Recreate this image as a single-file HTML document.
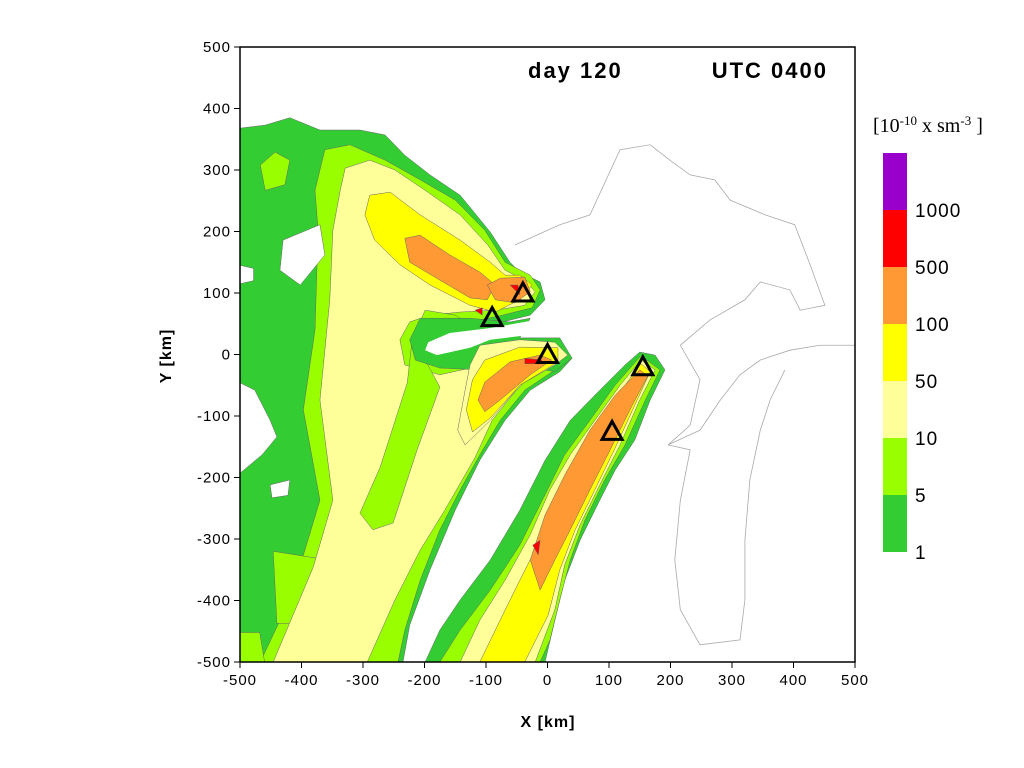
<!DOCTYPE html>
<html><head><meta charset="utf-8"><style>
body{margin:0;background:#fff;width:1024px;height:768px;overflow:hidden;font-family:"Liberation Sans",sans-serif}
svg{position:absolute;left:0;top:0}
</style></head><body>
<svg id="chart" width="1024" height="768"></svg>
<script>
// Contour polygons in km coordinates
const greenOuter=[[-500,368],[-459,373],[-419,385],[-370,365],[-305,365],[-264,357],[-232,324],[-191,292],[-142,259],[-93,199],[-61,150],[-45,134],[-12,118],[-4,89],[-28,64],[-93,48],[-159,40],[-199,24],[-207,7],[-183,-6],[-126,7],[-93,20],[-28,27],[20,24],[40,-6],[20,-28],[-28,-58],[-69,-107],[-110,-172],[-150,-253],[-191,-350],[-224,-440],[-235,-500],[-500,-500]];
const limeMain=[[-362,333],[-321,341],[-264,316],[-207,284],[-150,251],[-102,202],[-69,150],[-28,129],[-12,105],[-25,76],[-77,63],[-126,53],[-175,48],[-199,32],[-211,15],[-199,-1],[-175,-9],[-110,7],[-45,15],[20,15],[33,-6],[12,-25],[-37,-58],[-77,-107],[-110,-163],[-142,-220],[-175,-285],[-207,-367],[-232,-448],[-243,-500],[-467,-500],[-419,-399],[-370,-237],[-397,-90],[-378,40],[-373,202],[-378,267]];
const limeLowLeft=[[-446,-320],[-370,-332],[-370,-440],[-440,-437]];
const limeCorner=[[-500,-452],[-468,-452],[-460,-500],[-500,-500]];
const limeTopLeft=[[-467,308],[-443,329],[-419,316],[-427,276],[-459,267]];
const lyMain=[[-329,303],[-289,316],[-248,300],[-199,267],[-142,227],[-97,178],[-69,137],[-37,121],[-20,102],[-37,80],[-85,72],[-142,69],[-191,64],[-224,53],[-240,24],[-232,-17],[-175,-33],[-126,-22],[-85,-12],[-45,-12],[-12,-17],[-53,-61],[-90,-107],[-118,-168],[-167,-253],[-207,-318],[-248,-399],[-293,-500],[-446,-500],[-381,-346],[-349,-237],[-370,-74],[-354,89],[-349,202],[-337,267]];
const limeIsland=[[-199,72],[-150,64],[-126,48],[-167,40],[-191,24],[-199,-9],[-175,-53],[-212,-155],[-251,-274],[-284,-285],[-305,-258],[-272,-183],[-228,-46],[-220,24]];
const greenNotch=[[-207,59],[-126,59],[-61,53],[-28,59],[-45,27],[20,27],[40,-6],[12,-28],[-45,-17],[-110,-25],[-175,-22],[-215,-9],[-224,24]];
const notchWhite=[[-4,59],[-93,43],[-159,35],[-194,20],[-199,7],[-180,-1],[-126,11],[-93,24],[-28,32],[1,32],[20,59]];
const lyP2=[[-110,15],[-45,24],[12,20],[33,-1],[12,-17],[-45,-50],[-93,-107],[-134,-147],[-146,-123],[-134,-58],[-126,-17]];
const yP2=[[-102,-9],[-45,12],[17,11],[17,-12],[-45,-50],[-93,-103],[-122,-126],[-132,-90],[-122,-41]];
const oP2=[[-102,-45],[-61,-12],[-12,-1],[7,-9],[-28,-33],[-77,-74],[-102,-93],[-113,-74]];
const rP2=[[-37,-6],[-9,-9],[-12,-15],[-37,-15]];
const yP1=[[-289,259],[-256,264],[-207,227],[-142,186],[-93,150],[-69,129],[-45,129],[-25,113],[-45,89],[-85,69],[-126,80],[-191,113],[-240,146],[-281,186],[-297,227]];
const oP1=[[-232,189],[-207,194],[-159,162],[-110,134],[-85,113],[-98,89],[-126,92],[-175,121],[-224,150]];
const oP1b=[[-98,113],[-77,124],[-37,126],[-28,102],[-53,84],[-85,89]];
const rP1a=[[-61,113],[-48,113],[-45,97]];
const rP1b=[[-118,72],[-106,76],[-106,64]];
const gP3=[[150,4],[175,-1],[191,-25],[167,-74],[142,-139],[110,-188],[85,-237],[53,-302],[28,-367],[12,-432],[-4,-500],[-199,-500],[-175,-448],[-142,-399],[-93,-334],[-45,-253],[-4,-172],[37,-107],[85,-58],[126,-17]];
const lP3=[[152,-2],[183,-25],[159,-74],[126,-147],[93,-204],[61,-269],[37,-334],[20,-399],[4,-464],[-12,-500],[-175,-500],[-142,-448],[-93,-383],[-45,-310],[-4,-228],[28,-163],[69,-107],[110,-50]];
const lyP3=[[152,-9],[175,-25],[150,-74],[118,-147],[85,-212],[53,-277],[28,-342],[12,-415],[-20,-500],[-142,-500],[-110,-432],[-69,-367],[-28,-293],[4,-220],[37,-163],[77,-107],[118,-50]];
const yP3=[[152,-15],[167,-28],[142,-82],[110,-152],[77,-220],[45,-285],[20,-350],[1,-424],[-37,-500],[-110,-500],[-77,-432],[-45,-367],[-12,-302],[20,-228],[53,-163],[93,-98],[126,-50]];
const oP3=[[150,-25],[163,-35],[134,-90],[102,-155],[69,-220],[37,-285],[12,-334],[-12,-383],[-28,-334],[-4,-261],[28,-196],[69,-123],[110,-66]];
const rP3=[[-24,-310],[-12,-302],[-15,-326]];
const hole1=[[-430,186],[-370,211],[-362,162],[-402,113],[-435,137]];
const hole2=[[-451,-212],[-419,-204],[-422,-229],[-448,-233]];
const hole3=[[-500,-46],[-476,-58],[-451,-107],[-440,-134],[-464,-163],[-500,-193]];
const hole4=[[-500,145],[-478,140],[-478,120],[-500,115]];
const coast1=[[-53,178],[20,211],[69,227],[118,333],[167,341],[199,316],[232,292],[272,284],[297,251],[354,227],[402,211],[427,146],[451,80],[411,72],[394,105],[346,118],[321,89],[264,56],[216,15],[248,-41],[232,-115],[196,-147],[248,-123],[281,-74],[313,-33],[346,-9],[394,7],[443,15],[500,15]];
const coast2=[[386,-25],[362,-74],[346,-123],[329,-204],[321,-302],[321,-399],[313,-464],[248,-472],[216,-415],[207,-334],[216,-237],[232,-155],[196,-147]];
const sourcesX=[-40,-90,0,155,105];
const sourcesY=[100,60,0,-20,-125];
const xTicks=[-500,-400,-300,-200,-100,0,100,200,300,400,500];
const yTicks=[-500,-400,-300,-200,-100,0,100,200,300,400,500];
const legendLabels=["1000","500","100","50","10","5","1"];
const legendColors=["#9900cc","#ff0000","#ff9933","#ffff00","#ffff99","#99ff00","#33cc33"];

const L=240,R=855,T=47,B=662;
const sx=v=>L+(v+500)/1000*(R-L);
const sy=v=>B-(v+500)/1000*(B-T);
const NS="http://www.w3.org/2000/svg";
const svg=document.getElementById('chart');
function mk(tag,attrs,parent){const e=document.createElementNS(NS,tag);for(const k in attrs)e.setAttribute(k,attrs[k]);(parent||svg).appendChild(e);return e;}
const plot=mk('g',{});


function poly(pts,fill,name,stroke){const p=mk('polygon',{points:pts.map(q=>sx(q[0])+','+sy(q[1])).join(' '),fill:fill,stroke:stroke||'#666','stroke-width':0.5},plot);

}
function line(pts,name){const p=mk('polyline',{points:pts.map(q=>sx(q[0])+','+sy(q[1])).join(' '),fill:'none',stroke:'#aaa','stroke-width':0.8},plot);

}
poly(greenOuter,'#33cc33','contour-1-main');
poly(gP3,'#33cc33','contour-1-plume3');
poly(limeMain,'#99ff00','contour-5-main');
poly(limeLowLeft,'#99ff00','contour-5-lower-left');
poly(limeCorner,'#99ff00','contour-5-corner');
poly(limeTopLeft,'#99ff00','contour-5-top-left');
poly(lP3,'#99ff00','contour-5-plume3');
poly(lyMain,'#ffff99','contour-10-main');
poly(limeIsland,'#99ff00','contour-5-island');
poly(greenNotch,'#33cc33','contour-1-notch');
poly(notchWhite,'#ffffff','notch-gap','none');
poly(lyP2,'#ffff99','contour-10-plume2');
poly(lyP3,'#ffff99','contour-10-plume3');
poly(yP1,'#ffff00','contour-50-plume1');
poly(yP2,'#ffff00','contour-50-plume2');
poly(yP3,'#ffff00','contour-50-plume3');
poly(oP1,'#ff9933','contour-100-plume1');
poly(oP1b,'#ff9933','contour-100-plume1-source');
poly(oP2,'#ff9933','contour-100-plume2');
poly(oP3,'#ff9933','contour-100-plume3');
poly(rP1a,'#ff0000','contour-500-a');
poly(rP1b,'#ff0000','contour-500-b');
poly(rP2,'#ff0000','contour-500-plume2');
poly(rP3,'#ff0000','contour-500-plume3');
poly(hole1,'#ffffff','gap-1');
poly(hole2,'#ffffff','gap-2');
poly(hole3,'#ffffff','gap-3');
poly(hole4,'#ffffff','gap-4');
line(coast1,'lake-coastline');
line(coast2,'lake-michigan-coastline');
sourcesX.forEach((x,i)=>{const cx=sx(x),cy=sy(sourcesY[i]);
const t=mk('polygon',{points:`${cx},${cy-10} ${cx-10},${cy+8} ${cx+10},${cy+8}`,fill:'none',stroke:'#000','stroke-width':3},plot);

});
const fr=mk('rect',{x:L,y:T,width:R-L,height:B-T,fill:'none',stroke:'#000','stroke-width':1.5});


xTicks.forEach(v=>{const x=sx(v);mk('line',{x1:x,x2:x,y1:B,y2:B+6,stroke:'#000'});
const t=mk('text',{x:x,y:B+23,'text-anchor':'middle','font-size':15,'letter-spacing':1});t.textContent=v;

});
yTicks.forEach(v=>{const y=sy(v);mk('line',{x1:L-6,x2:L,y1:y,y2:y,stroke:'#000'});
const t=mk('text',{x:L-9,y:y+5,'text-anchor':'end','font-size':15,'letter-spacing':1});t.textContent=v;

});
const xt=mk('text',{x:548,y:727,'text-anchor':'middle','font-size':16,'font-weight':'bold','letter-spacing':1});xt.textContent='X [km]';


const yt=mk('text',{x:0,y:0,'text-anchor':'middle','font-size':16,'font-weight':'bold','letter-spacing':1,transform:'translate(171,356) rotate(-90)'});yt.textContent='Y [km]';


const tt=mk('text',{x:528,y:78,'font-size':22,'font-weight':'bold','letter-spacing':2});tt.textContent='day 120';


const tt2=mk('text',{x:828,y:78,'text-anchor':'end','font-size':22,'font-weight':'bold','letter-spacing':2});tt2.textContent='UTC 0400';


const segH=(552-153)/legendColors.length;
legendColors.forEach((c,i)=>{const r=mk('rect',{x:883,y:153+i*segH,width:24,height:segH,fill:c});


const t=mk('text',{x:915,y:153+(i+1)*segH+7,'font-size':19,'letter-spacing':1});t.textContent=legendLabels[i];

});
const lt=mk('text',{x:873,y:132,'font-size':20,'font-family':'Liberation Serif, serif'});
lt.innerHTML='[10<tspan dy="-7" font-size="13">-10</tspan><tspan dy="7"> x sm</tspan><tspan dy="-7" font-size="13">-3</tspan><tspan dy="7"> ]</tspan>';


</script>
</body></html>
